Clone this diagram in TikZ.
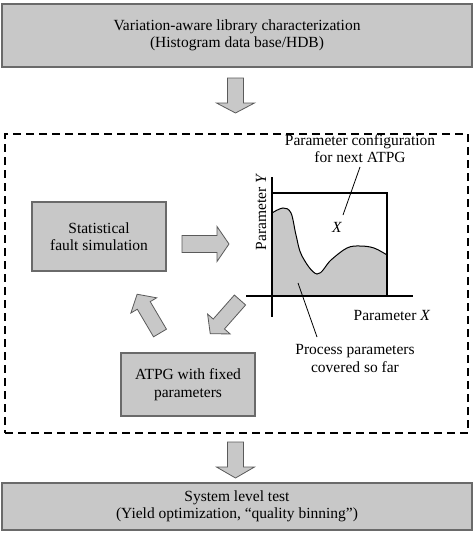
\documentclass[tikz,border=0pt]{standalone}
\usepackage{fontspec}
\setmainfont{Liberation Serif}
\definecolor{boxfill}{HTML}{C8C8C8}
\definecolor{boxline}{HTML}{6A6A6A}
\definecolor{arrline}{HTML}{5A5A5A}
\begin{document}
\begin{tikzpicture}[x=1pt,y=-1pt,font=\fontsize{15.5}{17.5}\selectfont]
\tikzset{
  box/.style={draw=boxline,fill=boxfill,line width=1.2pt,inner sep=0pt,align=center},
  barrow/.style={draw=arrline,fill=boxfill,line width=0.8pt,line join=miter},
  lbl/.style={align=center,inner sep=0pt},
  leader/.style={line width=0.8pt},
  pics/blockarrow/.style n args={4}{code={
    \draw[barrow] (0,-#2) -- ({#1-#4},-#2) -- ({#1-#4},-#3) -- (#1,0)
      -- ({#1-#4},#3) -- ({#1-#4},#2) -- (0,#2) -- cycle;}}
}
\useasboundingbox (0,0) rectangle (474,543);
% main boxes
\node[box,minimum width=470pt,minimum height=63pt] (hdb) at (237,35.5)
  {Variation-aware library characterization\\(Histogram data base/HDB)};
\node[draw,dashed,dash pattern=on 8pt off 5pt,line width=1.3pt,minimum width=463pt,minimum height=299pt,inner sep=0pt] (loop) at (236.5,283.5) {};
\node[box,minimum width=134pt,minimum height=69pt] (sfs) at (99,236.5)
  {Statistical\\fault simulation};
\node[box,minimum width=134pt,minimum height=63pt] (atpg) at (188,384.5)
  {ATPG with fixed\\parameters};
\node[box,minimum width=470pt,minimum height=47pt] (slt) at (237,506.5)
  {System level test\\(Yield optimization, ``quality binning'')};
% block arrows
\pic[rotate=-90] at (235.5,78) {blockarrow={35}{8}{19}{10}};
\pic[rotate=-90] at (235.5,442) {blockarrow={36}{8}{19}{11}};
\pic at (182,244) {blockarrow={47}{8.5}{17.5}{12}};
\pic[rotate=120.5] at (160,333) {blockarrow={45}{7.5}{15}{13}};
\pic[rotate=228.6] at (240,300) {blockarrow={45}{7.5}{15}{13}};
% graph
\fill[boxfill] plot[smooth,tension=0.6] coordinates {(272,213) (283,208) (291,213) (296,235) (302,256) (317,274) (331,260) (347,248) (360,246) (374,248) (387,255)}
  -- (387,296) -- (272,296) -- cycle;
\draw[line width=1pt] plot[smooth,tension=0.6] coordinates {(272,213) (283,208) (291,213) (296,235) (302,256) (317,274) (331,260) (347,248) (360,246) (374,248) (387,255)};
\coordinate (ytop) at (272,177);
\coordinate (ybot) at (272,317);
\coordinate (xl) at (246,296);
\coordinate (xr) at (413,296);
\coordinate (rtl) at (272,193);
\coordinate (rtr) at (387,193);
\coordinate (rbr) at (387,296);
\draw[line width=1.3pt] (ytop) -- (ybot);
\draw[line width=1.3pt] (xl) -- (xr);
\draw[line width=1.1pt] (rtl) -- (rtr) -- (rbr);
\node[lbl,rotate=90] (ylab) at (261,212) {Parameter \textit{Y}};
\node[lbl] (xlab) at (392,315) {Parameter \textit{X}};
\node[lbl] (xmark) at (337,227) {\textit{X}};
\node[lbl] (pc) at (360,148.5) {Parameter configuration\\for next ATPG};
\node[lbl] (pp) at (355,358.5) {Process parameters\\covered so far};
\coordinate (pcs) at (360,167);
\coordinate (pce) at (343,215);
\coordinate (pps) at (298,283);
\coordinate (ppe) at (317,337);
\draw[leader] (pcs) -- (pce);
\draw[leader] (pps) -- (ppe);
\end{tikzpicture}
\end{document}
